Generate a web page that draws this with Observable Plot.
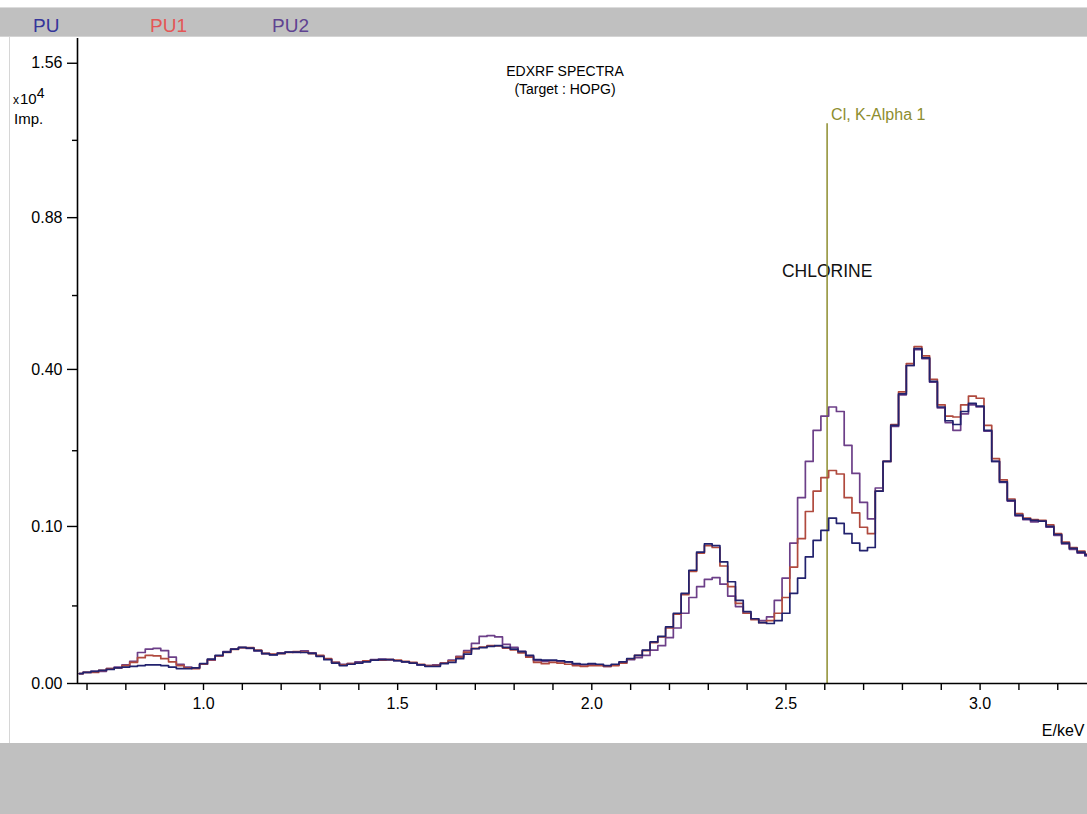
<!DOCTYPE html>
<html><head><meta charset="utf-8">
<script src="https://cdn.jsdelivr.net/npm/d3@7"></script>
<script src="https://cdn.jsdelivr.net/npm/@observablehq/plot@0.6"></script>
<style>
html,body{margin:0;padding:0;background:#fff;}
#frame{position:relative;width:1087px;height:814px;overflow:hidden;background:#fff;font-family:"Liberation Sans",Arial,sans-serif;color:#000;}
.bar{position:absolute;left:0;width:1087px;background:#c0c0c0;}
.abs{position:absolute;white-space:nowrap;}
</style></head><body>
<div id="frame">
  <div class="bar" style="top:7px;height:30px;border-top:1px solid #dcdcdc;border-bottom:1px solid #d4d4d4;box-sizing:border-box;"></div>
  <div class="abs" style="left:9px;top:37px;width:1px;height:706px;background:#d6d6d6;"></div>
  <div id="legend"></div>
  <div id="chart" class="abs" style="left:0;top:37px;"></div>
  <div class="abs" style="left:465px;top:62px;width:200px;text-align:center;font-size:14px;line-height:18px;">EDXRF SPECTRA<br>(Target : HOPG)</div>
  <div class="abs" style="left:13px;top:90px;font-size:15px;line-height:17px;"><span style="font-size:12px">x&#8202;</span>10<sup style="font-size:14px;vertical-align:6px;line-height:0">4</sup></div>
  <div class="abs" style="left:14px;top:110px;font-size:15px;line-height:17px;">Imp.</div>
  <div class="bar" style="top:743px;height:71px;"></div>
</div>
<script>
// ---- data -------------------------------------------------------------
const seriesNames  = ["PU", "PU1", "PU2"];
const legendColors = ["#35359a", "#e45656", "#5f4391"];
const lineColors   = ["#22226e", "#b04a3e", "#6c3f88"];

// energy calibration of the channels (keV): first channel and channel width
const E0 = 0.68, dE = 0.02;

// intensities (x 10^4 Imp.), one value per channel, 0.68 ... 3.28 keV
const PU = [
 .0004,.0005,.0006,.0007,.0008,.0010,.0011,.0012,.0013,.0014,
 .0014,.0013,.0011,.0009,.0009,.0010,.0016,.0024,.0032,.0040,
 .0048,.0053,.0051,.0044,.0036,.0033,.0037,.0040,.0040,.0039,
 .0037,.0030,.0023,.0017,.0013,.0015,.0017,.0019,.0022,.0023,
 .0023,.0021,.0019,.0017,.0014,.0012,.0012,.0016,.0018,.0025,
 .0035,.0049,.0052,.0056,.0058,.0053,.0048,.0041,.0032,.0023,
 .0022,.0022,.0021,.0019,.0016,.0015,.0016,.0015,.0013,.0015,
 .0019,.0025,.0032,.0045,.0070,.0090,.0130,.0200,.0330,.0520,
 .0700,.0790,.0770,.0600,.0420,.0280,.0210,.0170,.0150,.0146,
 .0160,.0200,.0330,.0450,.0650,.0830,.0950,.1110,.1040,.0910,
 .0800,.0717,.0750,.1500,.2000,.2700,.3400,.4100,.4550,.4300,
 .3700,.3100,.2800,.2720,.3000,.3180,.3120,.2600,.2000,.1650,
 .1360,.1150,.1100,.1080,.1070,.1000,.0900,.0800,.0740,.0700,
 .0670];
const PU1 = [
 .0004,.0005,.0005,.0007,.0009,.0010,.0013,.0018,.0027,.0032,
 .0031,.0025,.0019,.0013,.0010,.0009,.0015,.0023,.0031,.0039,
 .0047,.0052,.0052,.0045,.0037,.0035,.0036,.0039,.0041,.0040,
 .0036,.0032,.0025,.0018,.0014,.0016,.0017,.0021,.0022,.0022,
 .0023,.0022,.0020,.0018,.0015,.0013,.0013,.0017,.0021,.0028,
 .0040,.0050,.0054,.0058,.0057,.0051,.0046,.0038,.0028,.0018,
 .0016,.0018,.0017,.0015,.0013,.0012,.0013,.0013,.0012,.0013,
 .0017,.0024,.0032,.0044,.0068,.0088,.0125,.0195,.0320,.0510,
 .0690,.0770,.0750,.0560,.0380,.0260,.0200,.0165,.0150,.0160,
 .0200,.0300,.0550,.0850,.1200,.1500,.1720,.1840,.1780,.1400,
 .1180,.0990,.0910,.1500,.2000,.2720,.3450,.4150,.4600,.4350,
 .3750,.3150,.2900,.2880,.3150,.3350,.3300,.2700,.2050,.1680,
 .1380,.1170,.1110,.1090,.1080,.1020,.0910,.0810,.0750,.0710,
 .0680];
const PU2 = [
 .0004,.0005,.0006,.0006,.0009,.0011,.0014,.0020,.0039,.0048,
 .0050,.0044,.0028,.0015,.0011,.0010,.0015,.0022,.0031,.0041,
 .0048,.0052,.0050,.0043,.0036,.0034,.0038,.0040,.0039,.0043,
 .0038,.0031,.0024,.0018,.0015,.0016,.0019,.0020,.0023,.0024,
 .0023,.0021,.0019,.0017,.0014,.0013,.0014,.0017,.0022,.0030,
 .0044,.0065,.0090,.0093,.0088,.0062,.0053,.0042,.0030,.0021,
 .0020,.0021,.0020,.0019,.0015,.0014,.0015,.0014,.0012,.0014,
 .0017,.0023,.0027,.0032,.0045,.0058,.0085,.0125,.0200,.0300,
 .0380,.0440,.0455,.0400,.0310,.0240,.0200,.0170,.0160,.0180,
 .0280,.0450,.0800,.1400,.2000,.2600,.2900,.3100,.3000,.2300,
 .1790,.1330,.1100,.1550,.2000,.2680,.3380,.4100,.4520,.4280,
 .3680,.3080,.2760,.2600,.2950,.3150,.3100,.2580,.2000,.1640,
 .1350,.1140,.1090,.1060,.1070,.0990,.0890,.0790,.0730,.0690,
 .0660];
const seriesValues = [PU, PU1, PU2];

// axes
const xDomain = [0.6755, 3.2766];
const yDomain = [0, 1.687];
const xMajorTicks = [1.0, 1.5, 2.0, 2.5, 3.0];
const xMinorTicks = [0.7,0.8,0.9,1.1,1.2,1.3,1.4,1.6,1.7,1.8,1.9,2.1,2.2,2.3,2.4,2.6,2.7,2.8,2.9,3.1,3.2];
const yMajorTicks = [0.00, 0.10, 0.40, 0.88, 1.56];
const yMinorTicks = [0.0244, 0.2197, 0.6104, 1.1963];

// annotation: Cl K-alpha 1 marker
const clEnergy = 2.606;
const clTop = 1.27;
const clLabel = "Cl, K-Alpha 1";
const elementLabel = "CHLORINE";
const elementLabelY = 0.69;
const olive = "#8d8d2e";

// ---- legend --------------------------------------------------------------
const legendLeft = [33, 150, 272];
document.getElementById("legend").innerHTML = seriesNames.map((n, i) =>
  `<div class="abs" style="left:${legendLeft[i]}px;top:15px;font-size:19px;line-height:22px;color:${legendColors[i]}">${n}</div>`).join("");

// ---- chart ---------------------------------------------------------------
const rows = [];
seriesNames.forEach((name, s) => seriesValues[s].forEach((v, i) =>
  rows.push({series: name, energy: +(E0 + i * dE).toFixed(3), counts: v})));

const lineMark = (s) => Plot.line(rows.filter(d => d.series === seriesNames[s]), {
  x: "energy", y: "counts", curve: "step", stroke: lineColors[s], strokeWidth: 1.7, clip: true
});

const chart = Plot.plot({
  width: 1087, height: 706,
  marginLeft: 77, marginRight: 0, marginTop: 1, marginBottom: 60,
  x: {domain: xDomain},
  y: {type: "sqrt", domain: yDomain},
  style: {fontFamily: "'Liberation Sans', Arial, sans-serif", fontSize: "16px", background: "transparent", color: "#000", overflow: "visible"},
  marks: [
    Plot.axisY({ticks: yMajorTicks, tickFormat: d3.format(".2f"), tickSize: 10, tickPadding: 5, fontSize: 16, strokeWidth: 1.4, label: null}),
    Plot.axisY({ticks: yMinorTicks, tickFormat: () => "", tickSize: 5, strokeWidth: 1.4, label: null}),
    Plot.axisX({ticks: xMajorTicks, tickFormat: d3.format(".1f"), tickSize: 7, tickPadding: 7, fontSize: 16, strokeWidth: 1.4, label: null}),
    Plot.axisX({ticks: xMinorTicks, tickFormat: () => "", tickSize: 7, strokeWidth: 1.4, label: null}),
    Plot.text([elementLabel], {x: clEnergy, y: elementLabelY, text: d => d, fontSize: 17.5, fill: "#111", textAnchor: "middle"}),
    Plot.ruleX([clEnergy], {y1: 0, y2: clTop, stroke: olive, strokeWidth: 1.5}),
    Plot.text([clLabel], {x: clEnergy, y: clTop, text: d => d, textAnchor: "start", dx: 4, dy: -9, fontSize: 16, fill: olive}),
    lineMark(2), lineMark(1), lineMark(0),
    Plot.ruleX([xDomain[0]], {stroke: "#000", strokeWidth: 1.6}),
    Plot.ruleY([0], {stroke: "#000", strokeWidth: 1.6}),
    Plot.text(["E/keV"], {frameAnchor: "bottom-right", text: d => d, textAnchor: "end", lineAnchor: "middle", dx: -3, dy: 47, fontSize: 16})
  ]
});
document.getElementById("chart").appendChild(chart);
</script>
</body></html>
